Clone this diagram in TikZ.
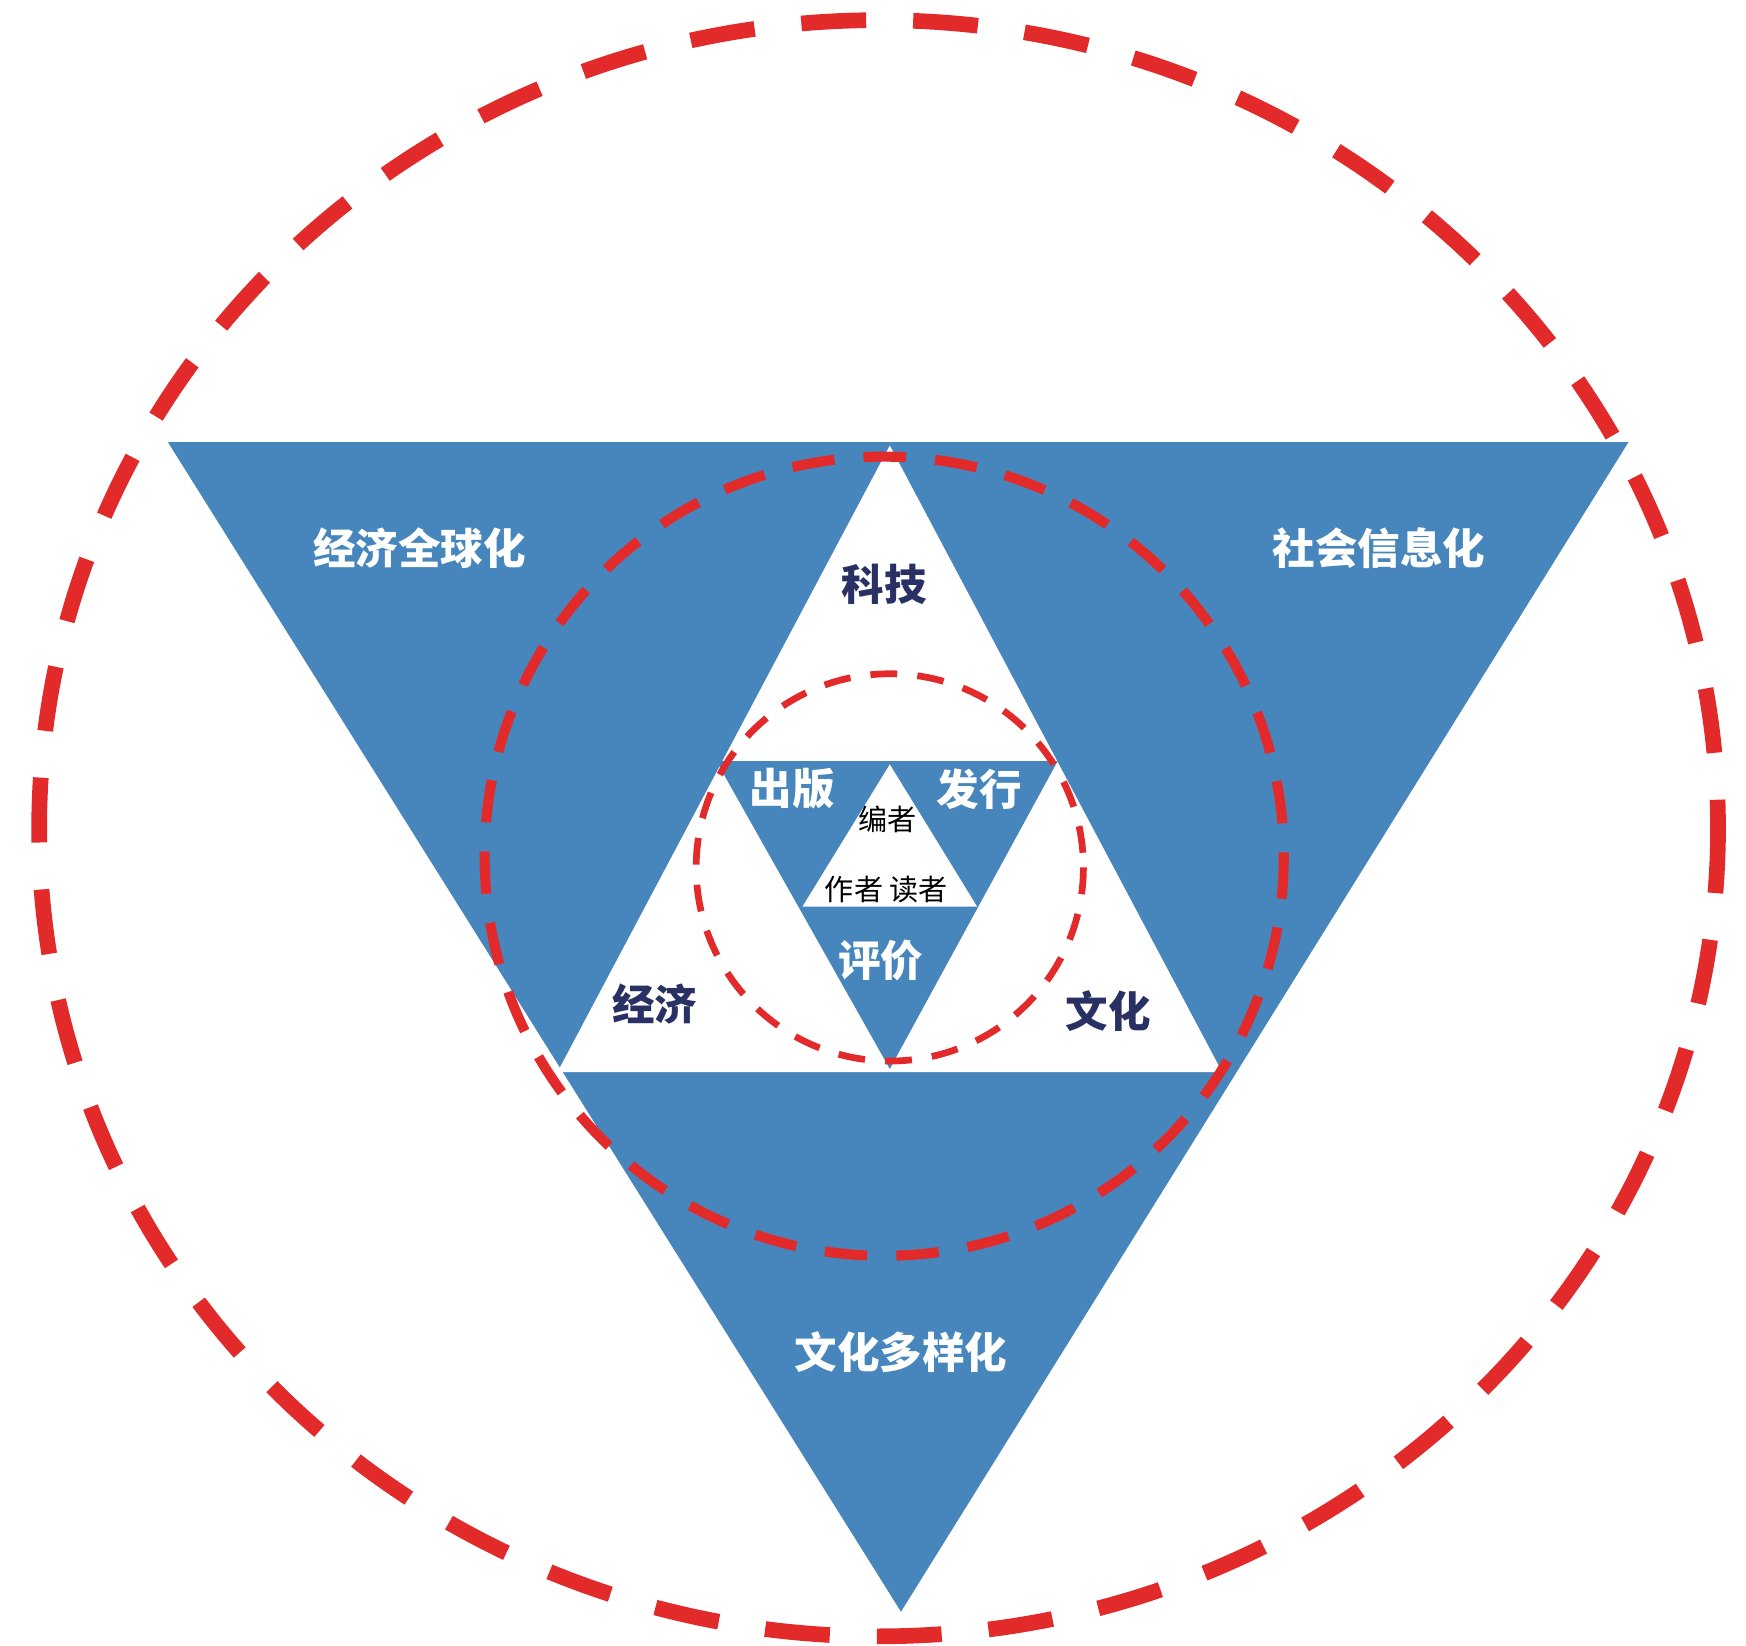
\documentclass[tikz,border=0pt]{standalone}
\usepackage{fontspec}
\setmainfont{Noto Sans CJK SC}
\definecolor{tblue}{RGB}{70,134,188}
\definecolor{tred}{RGB}{226,42,42}
\definecolor{navy}{RGB}{40,48,100}
\begin{document}
\begin{tikzpicture}[x=1pt,y=-1pt,
  wlab/.style={text=white,font=\bfseries\fontsize{38}{40}\selectfont},
  nlab/.style={text=navy,font=\bfseries\fontsize{38}{40}\selectfont},
  slab/.style={text=black,font=\fontsize{26}{28}\selectfont},
  ring/.style={draw=tred}]
\useasboundingbox (0,0) rectangle (1560,1470);
\fill[tblue] (150,395) -- (1455,395) -- (805,1440) -- cycle;
\fill[white] (795,398) -- (1092,958) -- (498,958) -- cycle;
\fill[tblue] (640,680) -- (945,680) -- (795,955) -- cycle;
\fill[white] (795,683) -- (873,810) -- (717,810) -- cycle;
\draw[ring,line width=14pt,dash pattern=on 58pt off 42pt] (785,740) ellipse [x radius=750, y radius=722];
\draw[ring,line width=9pt,dash pattern=on 38pt off 26pt] (790,765) circle [radius=357];
\draw[ring,line width=6pt,dash pattern=on 24pt off 18pt] (795,775) circle [radius=173];
\node[wlab] (a) at (375,490) {经济全球化};
\node[wlab] (b) at (1232,490) {社会信息化};
\node[wlab] (c) at (805,1208) {文化多样化};
\node[wlab] (d) at (708,705) {出版};
\node[wlab] (e) at (875,705) {发行};
\node[wlab] (f) at (787,858) {评价};
\node[nlab] (g) at (790,522) {科技};
\node[nlab] (h) at (585,897) {经济};
\node[nlab] (i) at (990,903) {文化};
\node[slab] (j) at (793,732) {编者};
\node[slab] (k) at (792,795) {作者\ 读者};
\end{tikzpicture}
\end{document}
